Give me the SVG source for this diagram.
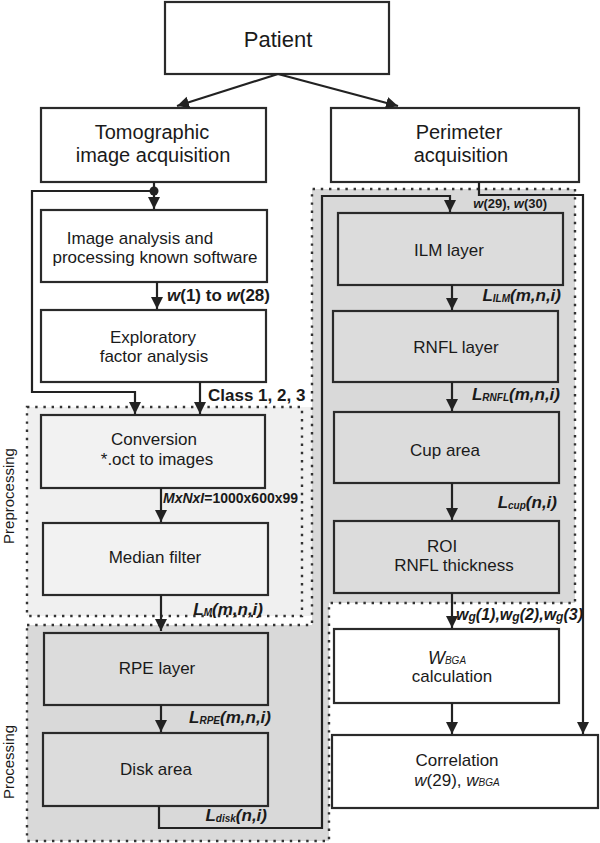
<svg xmlns="http://www.w3.org/2000/svg" width="600" height="843" viewBox="0 0 600 843">
<defs>
<marker id="ah" markerUnits="userSpaceOnUse" markerWidth="12" markerHeight="14" viewBox="0 0 12 14" refX="12" refY="7" orient="auto">
<path d="M0,1 L12,7 L0,13 Z" fill="#222"/>
</marker>
<style>
text{font-family:"Liberation Sans",Arial,sans-serif;fill:#1a1a1a}
.box{stroke:#2a2a2a;stroke-width:2.2}
.w{fill:#fff}
.lg{fill:#f2f2f2}
.dg{fill:#dcdcdc}
.t{font-size:17px;text-anchor:middle}
.tb{font-size:20px;text-anchor:middle}
.lab{font-size:17px;font-weight:bold;font-style:italic}
.sub{font-size:10px}
.c{fill:none;stroke:#222;stroke-width:2.2}
.ca{fill:none;stroke:#222;stroke-width:2.2;marker-end:url(#ah)}
.dot{fill:none;stroke:#333;stroke-width:2.4;stroke-dasharray:2.4 5.8}
</style>
</defs>

<g id="regions">
<rect x="27" y="407" width="285" height="209" fill="#f0f0f0"/>
<rect x="27" y="407" width="275" height="209" class="dot"/>
<path d="M27,625 H312 V189 H575 V603 H329 V841 H27 Z" fill="#d9d9d9"/>
<path d="M27,625 H312 V189 H575 V603 H329 V841 H27 Z" class="dot"/>
<text x="14" y="496" font-size="15" text-anchor="middle" transform="rotate(-90 14 496)">Preprocessing</text>
<text x="14" y="762" font-size="15" text-anchor="middle" transform="rotate(-90 14 762)">Processing</text>
</g>

<g id="patient"><rect x="165" y="2" width="224" height="72" class="box w"/><text x="278" y="47" font-size="22" text-anchor="middle">Patient</text></g>
<g id="tomographic"><rect x="41" y="108" width="225" height="74" class="box w"/><text x="152" y="139" class="tb">Tomographic</text><text x="153" y="162" class="tb">image acquisition</text></g>
<g id="perimeter"><rect x="331" y="108" width="248" height="74" class="box w"/><text x="459" y="139" class="tb">Perimeter</text><text x="461" y="162" class="tb">acquisition</text></g>
<g id="image-analysis"><rect x="41" y="210" width="226" height="72" class="box w"/><text x="140" y="244" class="t">Image analysis and</text><text x="155" y="263" class="t">processing known software</text></g>
<g id="exploratory"><rect x="41" y="310" width="225" height="72" class="box w"/><text x="153" y="343" class="t">Exploratory</text><text x="154" y="362" class="t">factor analysis</text></g>
<g id="conversion"><rect x="41" y="415" width="224" height="73" class="box lg"/><text x="154" y="445" class="t">Conversion</text><text x="157" y="465" class="t">*.oct to images</text></g>
<g id="median"><rect x="43" y="523" width="225" height="72" class="box lg"/><text x="155" y="563" class="t">Median filter</text></g>
<g id="rpe"><rect x="44" y="633" width="224" height="72" class="box dg"/><text x="157" y="674" class="t">RPE layer</text></g>
<g id="disk"><rect x="43" y="733" width="225" height="73" class="box dg"/><text x="156" y="775" class="t">Disk area</text></g>
<g id="ilm"><rect x="338" y="213" width="225" height="72" class="box dg"/><text x="449" y="256" class="t">ILM layer</text></g>
<g id="rnfl"><rect x="333" y="311" width="225" height="71" class="box dg"/><text x="456" y="353" class="t">RNFL layer</text></g>
<g id="cup"><rect x="334" y="412" width="225" height="71" class="box dg"/><text x="445" y="456" class="t">Cup area</text></g>
<g id="roi"><rect x="334" y="521" width="225" height="72" class="box dg"/><text x="442" y="552" class="t">ROI</text><text x="454" y="571" class="t">RNFL thickness</text></g>
<g id="wbga"><rect x="334" y="629" width="225" height="74" class="box w"/><text x="447" y="664" text-anchor="middle" font-style="italic"><tspan font-size="18">W</tspan><tspan font-size="10">BGA</tspan></text><text x="452" y="682" class="t">calculation</text></g>
<g id="correlation"><rect x="332" y="735" width="266" height="73" class="box w"/><text x="457" y="766" class="t">Correlation</text><text x="457" y="786" class="t"><tspan font-style="italic">w</tspan>(29), <tspan font-style="italic">w</tspan><tspan font-style="italic" font-size="10">BGA</tspan></text></g>

<g id="connectors">
<path d="M278,74 L177,106" class="ca"/>
<path d="M278,74 L398,106" class="ca"/>
<path d="M154,182 V209" class="ca"/>
<circle cx="154" cy="191" r="4.5" fill="#222"/>
<path d="M154,191 H32 V392 H135 V414" class="ca"/>
<path d="M157,282 V309" class="ca"/>
<path d="M200,382 V414" class="ca"/>
<path d="M161,488 V522" class="ca"/>
<path d="M161,595 V631" class="ca"/>
<path d="M161,705 V732" class="ca"/>
<path d="M159,806 V828 H322 V196 H450 V212" class="ca"/>
<path d="M479,182 V195 H583 V734" class="ca"/>
<path d="M452,285 V310" class="ca"/>
<path d="M452,382 V411" class="ca"/>
<path d="M452,483 V520" class="ca"/>
<path d="M452,593 V628" class="ca"/>
<path d="M452,703 V734" class="ca"/>
</g>

<g id="labels">
<text x="167" y="301" font-size="17" font-weight="bold"><tspan font-style="italic">w</tspan>(1) to <tspan font-style="italic">w</tspan>(28)</text>
<text x="208" y="401" font-size="17" font-weight="bold">Class 1, 2, 3</text>
<text x="163" y="503" font-size="14" font-weight="bold"><tspan font-style="italic">MxNxI</tspan>=1000x600x99</text>
<text x="263" y="615" class="lab" text-anchor="end">L<tspan class="sub" dy="1">M</tspan><tspan dy="-1">(m,n,i)</tspan></text>
<text x="271" y="723" class="lab" text-anchor="end">L<tspan class="sub" dy="1">RPE</tspan><tspan dy="-1">(m,n,i)</tspan></text>
<text x="267" y="821" class="lab" text-anchor="end">L<tspan class="sub" dy="1">disk</tspan><tspan dy="-1">(n,i)</tspan></text>
<text x="547" y="208" font-size="13" font-weight="bold" text-anchor="end"><tspan font-style="italic">w</tspan>(29), <tspan font-style="italic">w</tspan>(30)</text>
<text x="561" y="301" class="lab" text-anchor="end">L<tspan class="sub" dy="1">ILM</tspan><tspan dy="-1">(m,n,i)</tspan></text>
<text x="560" y="400" class="lab" text-anchor="end">L<tspan class="sub" dy="1">RNFL</tspan><tspan dy="-1">(m,n,i)</tspan></text>
<text x="557" y="508" class="lab" text-anchor="end">L<tspan class="sub" dy="1">cup</tspan><tspan dy="-1">(n,i)</tspan></text>
<text x="583" y="620" font-size="16" font-weight="bold" font-style="italic" text-anchor="end">w<tspan font-size="12" dy="1">g</tspan><tspan dy="-1">(1),w</tspan><tspan font-size="12" dy="1">g</tspan><tspan dy="-1">(2),w</tspan><tspan font-size="12" dy="1">g</tspan><tspan dy="-1">(3)</tspan></text>
</g>
</svg>
